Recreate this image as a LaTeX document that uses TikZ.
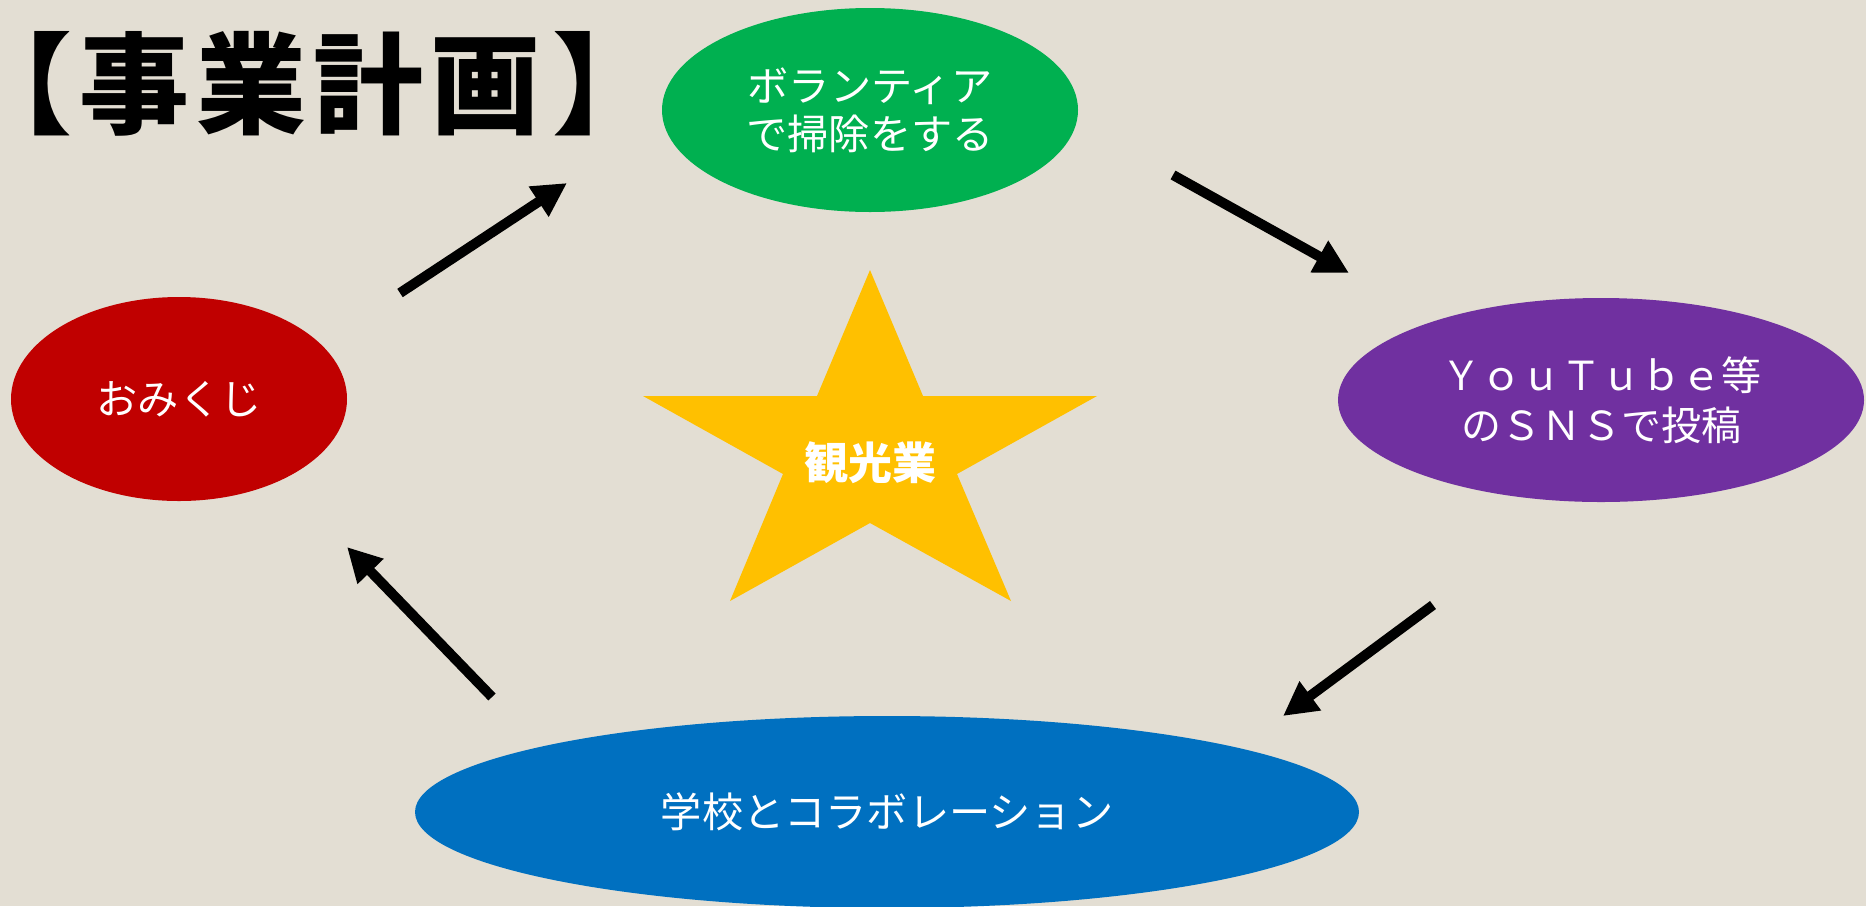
\documentclass[tikz,border=0pt]{standalone}
\usepackage{fontspec}
\setmainfont{Noto Sans CJK JP}
\usetikzlibrary{shapes.geometric,arrows.meta}
\definecolor{bg}{HTML}{E3DED3}
\definecolor{cgreen}{HTML}{00B050}
\definecolor{cpurple}{HTML}{7030A0}
\definecolor{cred}{HTML}{C00000}
\definecolor{cblue}{HTML}{0070C0}
\definecolor{cstar}{HTML}{FFC000}
\begin{document}
\begin{tikzpicture}[x=0.5pt,y=-0.5pt,
  bubble/.style={ellipse, inner sep=0pt, text=white, align=center,
    font=\fontsize{20.6}{24}\selectfont},
  flow/.style={line width=5pt, -{Triangle[length=17pt,width=17pt]}}]
\useasboundingbox (0,0) rectangle (1866,906);
\clip (0,0) rectangle (1866,906);
\fill[bg] (0,0) rectangle (1866,906);

% title
\node[anchor=base west, inner sep=0pt, font=\fontsize{55}{55}\selectfont\bfseries] (title) at (0,125)
  {\kern-19pt【\kern3.5pt事\kern3.5pt業\kern3.5pt計\kern3.5pt画\kern6pt】};

% ellipses
\node[bubble, fill=cgreen, minimum width=208pt, minimum height=102pt] (clean) at (870,110)
  {ボランティア\\で掃除をする};
\node[bubble, fill=cpurple, minimum width=263pt, minimum height=102pt,
  font=\fontsize{20}{25}\selectfont] (sns) at (1601,400)
  {ＹｏｕＴｕｂｅ等\\のＳＮＳで投稿};
\node[bubble, fill=cred, minimum width=168pt, minimum height=102pt] (omikuji) at (179,399)
  {おみくじ};
\node[bubble, fill=cblue, minimum width=472pt, minimum height=96pt] (school) at (887,812)
  {学校とコラボレーション};

% star
\fill[cstar] (870,270) -- (923,396) -- (1097,396) -- (957,474) -- (1011,601)
  -- (870,523) -- (730,601) -- (783,474) -- (643,396) -- (817,396) -- cycle;
\node[text=white, font=\fontsize{22}{22}\selectfont\bfseries] (tourism) at (870,463) {観光業};

% arrows
\coordinate (a1s) at (400,293); \coordinate (a1e) at (567,183);
\coordinate (a2s) at (1173,175); \coordinate (a2e) at (1349,273);
\coordinate (a3s) at (1433,605); \coordinate (a3e) at (1283,716);
\coordinate (a4s) at (492,697); \coordinate (a4e) at (347,547);
\draw[flow] (a1s) -- (a1e);
\draw[flow] (a2s) -- (a2e);
\draw[flow] (a3s) -- (a3e);
\draw[flow] (a4s) -- (a4e);
\end{tikzpicture}
\end{document}
